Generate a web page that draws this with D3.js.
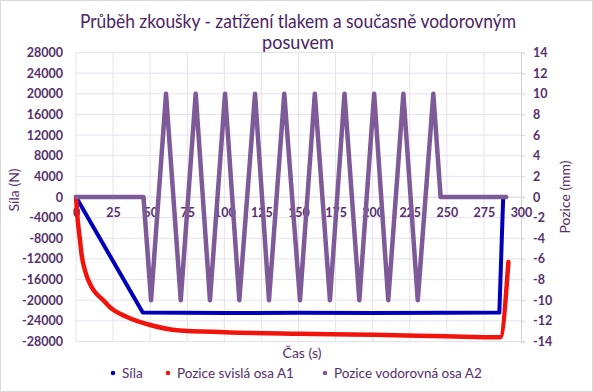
<!DOCTYPE html>
<html>
<head>
<meta charset="utf-8">
<script src="https://cdn.jsdelivr.net/npm/d3@7"></script>
<style>
  html, body { margin: 0; padding: 0; background: #fff; }
  svg { display: block; font-family: Lato, "Open Sans", sans-serif; }
</style>
</head>
<body>
<svg id="chart" width="593" height="392"></svg>
<script>
// ---- data ----
const titleLines = ["Průběh zkoušky - zatížení tlakem a současně vodorovným", "posuvem"];
const xTicks = [0, 25, 50, 75, 100, 125, 150, 175, 200, 225, 250, 275, 300];
const leftTicks = [28000, 24000, 20000, 16000, 12000, 8000, 4000, 0, -4000, -8000, -12000, -16000, -20000, -24000, -28000];
const rightTicks = [14, 12, 10, 8, 6, 4, 2, 0, -2, -4, -6, -8, -10, -12, -14];

// Síla (N) – left axis
const silaT = [0, 45, 100, 150, 200, 250, 285.4, 288];
const silaV = [0, -22400, -22500, -22450, -22500, -22450, -22400, 0];

// Pozice svislá osa A1 (mm) – right axis
const a1T = [0, 1, 2.7, 3.8, 6, 9.4, 11.7, 18.4, 23, 34, 50, 68, 100, 150, 200, 250, 286, 291.5];
const a1V = [0, -2, -4.2, -5.6, -7.1, -8.4, -9.0, -10, -10.7, -11.6, -12.4, -12.9, -13.1, -13.25, -13.35, -13.5, -13.6, -6.3];

// Pozice vodorovná osa A2 (mm) – right axis
const a2T = [0, 45.5, 50.6, 60.7, 70.6, 80.7, 90.3, 100.5, 110.1, 120.7, 130.1, 140.4, 151, 161, 171.2, 181, 191, 201, 210.5, 220.7, 230.4, 240.9, 245.8, 290];
const a2V = [0, 0, -10, 10, -10, 10, -10, 10, -10, 10, -10, 10, -10, 10, -10, 10, -10, 10, -10, 10, -10, 10, 0, 0];

const seriesNames = ["Síla", "Pozice svislá osa A1", "Pozice vodorovná osa A2"];
const colors = ["#0000bb", "#f2140c", "#7e5b98"];

// ---- layout ----
const svg = d3.select("#chart");
const W = 593, H = 392;
const plot = { left: 76, right: 521, top: 52.5, bottom: 341.5 };
const textCol = "#55306b";
const fmt = d => String(d);

svg.append("rect").attr("x", 0.5).attr("y", 0.5).attr("width", W - 1).attr("height", H - 1)
  .attr("fill", "#fff").attr("stroke", "#d9d9d9");

const x = d3.scaleLinear().domain([0, 300]).range([plot.left, plot.right]);
const yL = d3.scaleLinear().domain([-28000, 28000]).range([plot.bottom, plot.top]);
const yR = d3.scaleLinear().domain([-14, 14]).range([plot.bottom, plot.top]);

// grid
const grid = svg.append("g");
grid.selectAll("line.h").data(leftTicks).join("line")
  .attr("x1", plot.left).attr("x2", plot.right)
  .attr("y1", d => yL(d)).attr("y2", d => yL(d))
  .attr("stroke", "#e7e0ee").attr("stroke-width", 1);
grid.selectAll("line.v").data(xTicks.slice(0, -1)).join("line")
  .attr("x1", d => x(d)).attr("x2", d => x(d))
  .attr("y1", plot.top).attr("y2", plot.bottom)
  .attr("stroke", "#e7e0ee").attr("stroke-width", 1);

// right axis
const rAxis = d3.axisRight(yR).tickValues(rightTicks).tickSize(4).tickPadding(8).tickFormat(fmt);
const gR = svg.append("g").attr("transform", `translate(${plot.right},0)`).call(rAxis);
gR.select(".domain").attr("stroke", "#d6d0dc");
gR.selectAll(".tick line").attr("stroke", "#d6d0dc");
gR.selectAll("text").attr("fill", textCol).attr("font-size", 12.5).attr("font-weight", "bold")
  .attr("font-family", "Lato, sans-serif");

// left axis
const lAxis = d3.axisLeft(yL).tickValues(leftTicks).tickSize(0).tickPadding(13).tickFormat(fmt);
const gL = svg.append("g").attr("transform", `translate(${plot.left},0)`).call(lAxis);
gL.select(".domain").remove();
gL.selectAll("text").attr("fill", textCol).attr("font-size", 12.5).attr("font-weight", "bold")
  .attr("font-family", "Lato, sans-serif");

// x axis at zero
const xAxis = d3.axisBottom(x).tickValues(xTicks).tickSize(0).tickPadding(11).tickFormat(fmt);
const gX = svg.append("g").attr("transform", `translate(0,${yL(0)})`).call(xAxis);
gX.select(".domain").attr("stroke", "#e7e0ee");
gX.selectAll("text").attr("fill", textCol).attr("font-size", 12.5).attr("font-weight", "bold")
  .attr("font-family", "Lato, sans-serif");

// series
const lineL = d3.line().x(d => x(d[0])).y(d => yL(d[1]));
const lineR = d3.line().x(d => x(d[0])).y(d => yR(d[1]));
const lineRSmooth = d3.line().x(d => x(d[0])).y(d => yR(d[1])).curve(d3.curveMonotoneX);

svg.append("path").datum(silaT.map((t, i) => [t, silaV[i]]))
  .attr("d", lineL).attr("fill", "none").attr("stroke", colors[0])
  .attr("stroke-width", 4).attr("stroke-linejoin", "round").attr("stroke-linecap", "round");
svg.append("path").datum(a1T.map((t, i) => [t, a1V[i]]))
  .attr("d", lineRSmooth).attr("fill", "none").attr("stroke", colors[1])
  .attr("stroke-width", 4.5).attr("stroke-linejoin", "round").attr("stroke-linecap", "round");
svg.append("path").datum(a2T.map((t, i) => [t, a2V[i]]))
  .attr("d", lineR).attr("fill", "none").attr("stroke", colors[2])
  .attr("stroke-width", 4.5).attr("stroke-linejoin", "round").attr("stroke-linecap", "round");

// title
svg.append("text").attr("x", 298).attr("y", 28).attr("text-anchor", "middle")
  .attr("fill", "#4b2463").attr("font-size", 19).attr("font-family", "Lato, sans-serif")
  .attr("textLength", 436).attr("lengthAdjust", "spacingAndGlyphs")
  .text(titleLines[0]);
svg.append("text").attr("x", 298).attr("y", 49).attr("text-anchor", "middle")
  .attr("fill", "#4b2463").attr("font-size", 19).attr("font-family", "Lato, sans-serif")
  .attr("textLength", 72).attr("lengthAdjust", "spacingAndGlyphs")
  .text(titleLines[1]);

// axis titles
svg.append("text").attr("transform", `translate(19,190) rotate(-90)`).attr("text-anchor", "middle")
  .attr("fill", textCol).attr("font-size", 14).attr("font-family", "Lato, sans-serif")
  .text("Síla (N)");
svg.append("text").attr("transform", `translate(570,197) rotate(-90)`).attr("text-anchor", "middle")
  .attr("fill", textCol).attr("font-size", 14).attr("font-family", "Lato, sans-serif")
  .text("Pozice (mm)");
svg.append("text").attr("x", 302).attr("y", 358).attr("text-anchor", "middle")
  .attr("fill", textCol).attr("font-size", 14).attr("font-family", "Lato, sans-serif")
  .text("Čas (s)");

// legend
const legX = [113, 168, 325];
const leg = svg.append("g");
seriesNames.forEach((n, i) => {
  leg.append("circle").attr("cx", legX[i]).attr("cy", 373).attr("r", 2.3).attr("fill", colors[i]);
  leg.append("text").attr("x", legX[i] + 9).attr("y", 378).attr("fill", textCol)
    .attr("font-size", 13.5).attr("font-family", "Lato, sans-serif").text(n);
});
</script>
</body>
</html>
